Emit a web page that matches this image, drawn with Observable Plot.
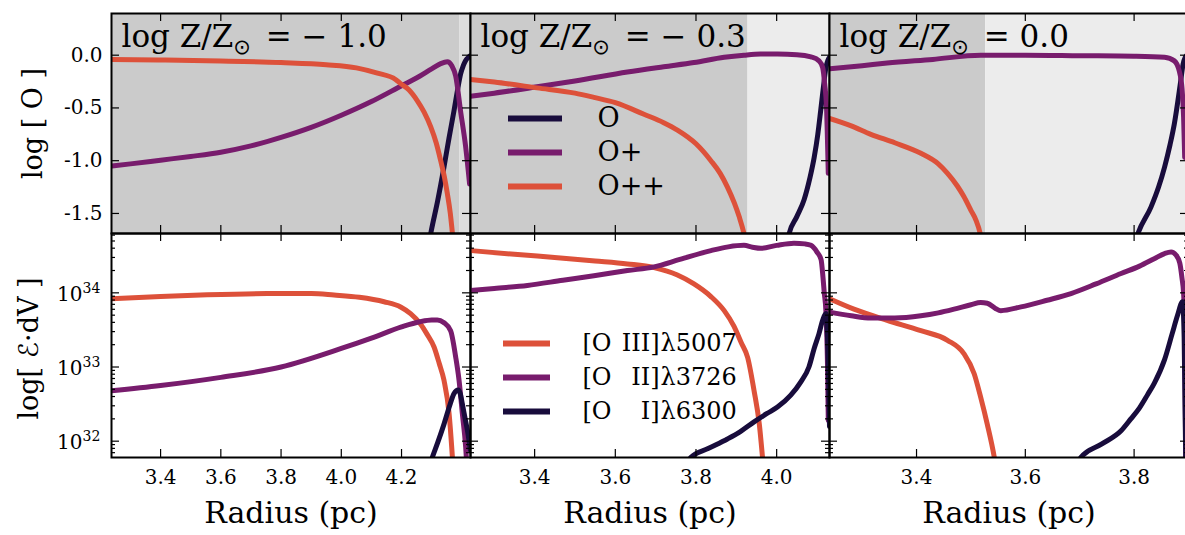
<!DOCTYPE html>
<html>
<head>
<meta charset="utf-8">
<script src="https://cdn.jsdelivr.net/npm/d3@7"></script>
<script src="https://cdn.jsdelivr.net/npm/@observablehq/plot@0.6"></script>
<style>
  html, body { margin: 0; padding: 0; background: #fff; overflow: hidden; }
  #fig { position: relative; width: 1185px; height: 535px; background: #fff; }
  #fig svg { position: absolute; overflow: visible; }
  #fig text { font-family: 'DejaVu Serif', 'DejaVu Sans', serif; }
</style>
</head>
<body>
<div id="fig"></div>
<script>
// ---------------------------------------------------------------------------
// Oxygen ionisation structure of three shell models (log Z/Z☉ = -1.0, -0.3, 0.0)
// top row: ion fractions log[O], bottom row: line emission ℰ·dV per radius
// ---------------------------------------------------------------------------

const metallicity = [-1.0, -0.3, 0.0];
const radiusInner = [3.237, 3.241, 3.240];   // pc, left edge of each column
const radiusOuter = [4.429, 4.131, 3.900];   // pc, right edge of each column
const ionFront    = [4.394, 3.929, 3.527];   // pc, end of the ionised zone
const radiusTicks = [[3.4, 3.6, 3.8, 4.0, 4.2], [3.4, 3.6, 3.8, 4.0], [3.4, 3.6, 3.8]];

const ionTicks = [0, -0.5, -1.0, -1.5];
const emisDecades = [32, 33, 34];
const ionNames = ["O", "O+", "O++"];
const linePrefix = ["[O", "[O", "[O"];
const lineIon = ["III]", "II]", "I]"];
const lineWave = ["λ5007", "λ3726", "λ6300"];

// log ion fraction, [radius (pc), log X]
const zm10_O = [[4.290,-1.80],[4.297,-1.69],[4.320,-1.38],[4.341,-1.06],[4.358,-0.78],[4.374,-0.53],[4.386,-0.33],[4.396,-0.18],[4.405,-0.10],[4.413,-0.05],[4.422,-0.02],[4.429,-0.005]];
const zm10_Op = [[3.237,-1.05],[3.300,-1.03],[3.400,-0.995],[3.500,-0.96],[3.600,-0.92],[3.700,-0.86],[3.800,-0.78],[3.900,-0.685],[4.000,-0.57],[4.100,-0.44],[4.200,-0.29],[4.260,-0.20],[4.300,-0.13],[4.330,-0.08],[4.352,-0.063],[4.367,-0.10],[4.380,-0.20],[4.396,-0.53],[4.413,-0.87],[4.426,-1.22]];
const zm10_Opp = [[3.237,-0.04],[3.400,-0.045],[3.600,-0.055],[3.800,-0.07],[3.950,-0.09],[4.050,-0.12],[4.120,-0.17],[4.180,-0.23],[4.197,-0.27],[4.225,-0.33],[4.252,-0.43],[4.275,-0.54],[4.297,-0.68],[4.315,-0.83],[4.330,-1.00],[4.342,-1.15],[4.352,-1.31],[4.362,-1.50],[4.369,-1.69],[4.373,-1.80]];

const zm03_O = [[4.025,-1.80],[4.031,-1.69],[4.050,-1.53],[4.068,-1.37],[4.082,-1.17],[4.093,-0.97],[4.102,-0.75],[4.109,-0.53],[4.116,-0.30],[4.122,-0.12],[4.127,-0.05],[4.131,-0.02]];
const zm03_Op = [[3.241,-0.39],[3.300,-0.36],[3.406,-0.30],[3.500,-0.245],[3.630,-0.16],[3.720,-0.11],[3.795,-0.07],[3.870,-0.02],[3.919,0.0],[3.960,0.01],[4.002,0.01],[4.050,0.005],[4.085,-0.016],[4.105,-0.054],[4.114,-0.117],[4.119,-0.27],[4.124,-0.53],[4.126,-0.81],[4.128,-1.12]];
const zm03_Opp = [[3.241,-0.23],[3.300,-0.255],[3.406,-0.31],[3.500,-0.36],[3.547,-0.40],[3.600,-0.45],[3.671,-0.56],[3.720,-0.64],[3.754,-0.71],[3.800,-0.84],[3.837,-1.00],[3.860,-1.12],[3.878,-1.25],[3.895,-1.40],[3.907,-1.53],[3.919,-1.69],[3.925,-1.80]];

const z00_O = [[3.800,-1.80],[3.807,-1.69],[3.831,-1.44],[3.845,-1.25],[3.856,-1.06],[3.866,-0.85],[3.874,-0.65],[3.885,-0.27],[3.890,-0.085],[3.894,-0.02],[3.897,0.0]];
const z00_Op = [[3.240,-0.13],[3.300,-0.10],[3.346,-0.075],[3.430,-0.04],[3.518,0.0],[3.600,0.0],[3.700,-0.005],[3.800,-0.01],[3.856,-0.02],[3.874,-0.054],[3.883,-0.15],[3.888,-0.31],[3.891,-0.59],[3.893,-0.97]];
const z00_Opp = [[3.240,-0.60],[3.280,-0.67],[3.316,-0.75],[3.360,-0.83],[3.408,-0.93],[3.440,-1.03],[3.457,-1.12],[3.475,-1.24],[3.487,-1.34],[3.500,-1.47],[3.509,-1.56],[3.517,-1.69],[3.521,-1.80]];

// log10 of line emission ℰ·dV, [radius (pc), log10 value]
const zm10_OIII = [[3.237,33.92],[3.400,33.95],[3.533,33.97],[3.754,33.99],[3.900,33.99],[3.976,33.97],[4.060,33.94],[4.142,33.88],[4.197,33.81],[4.230,33.72],[4.263,33.58],[4.285,33.44],[4.308,33.27],[4.325,33.05],[4.341,32.82],[4.358,32.37],[4.369,31.78],[4.372,31.60]];
const zm10_OII = [[3.237,32.68],[3.400,32.75],[3.600,32.86],[3.800,33.00],[4.000,33.25],[4.100,33.39],[4.200,33.54],[4.260,33.61],[4.300,33.635],[4.319,33.635],[4.340,33.60],[4.363,33.49],[4.380,33.13],[4.391,32.82],[4.402,32.37],[4.413,31.92],[4.418,31.60]];
const zm10_OI = [[4.295,31.70],[4.302,31.78],[4.320,31.98],[4.341,32.23],[4.360,32.48],[4.374,32.64],[4.388,32.69],[4.395,32.64],[4.402,32.50],[4.410,32.33],[4.419,32.14],[4.429,31.87]];

const zm03_OIII = [[3.241,34.57],[3.350,34.52],[3.464,34.47],[3.550,34.43],[3.630,34.39],[3.696,34.34],[3.754,34.24],[3.795,34.12],[3.837,33.95],[3.870,33.76],[3.894,33.55],[3.912,33.33],[3.928,33.13],[3.944,32.68],[3.957,32.23],[3.965,31.78],[3.968,31.60]];
const zm03_OII = [[3.241,34.03],[3.300,34.06],[3.382,34.10],[3.470,34.17],[3.547,34.23],[3.630,34.30],[3.696,34.35],[3.760,34.45],[3.837,34.57],[3.880,34.62],[3.919,34.64],[3.940,34.615],[3.961,34.60],[4.000,34.64],[4.043,34.67],[4.070,34.66],[4.085,34.64],[4.100,34.55],[4.110,34.45],[4.115,34.20],[4.118,34.00],[4.122,33.76],[4.126,33.04],[4.128,32.28]];
const zm03_OI = [[3.780,31.70],[3.787,31.78],[3.830,31.90],[3.878,32.03],[3.910,32.13],[3.944,32.26],[3.975,32.37],[4.002,32.46],[4.035,32.62],[4.060,32.80],[4.080,33.00],[4.093,33.25],[4.105,33.45],[4.114,33.63],[4.122,33.72],[4.126,33.40],[4.129,32.80],[4.131,32.20]];

const z00_OIII = [[3.240,33.92],[3.285,33.78],[3.346,33.63],[3.408,33.49],[3.457,33.36],[3.487,33.18],[3.506,32.91],[3.518,32.59],[3.530,32.23],[3.543,31.78],[3.547,31.60]];
const z00_OII = [[3.240,33.74],[3.280,33.69],[3.316,33.66],[3.360,33.66],[3.408,33.69],[3.440,33.73],[3.469,33.78],[3.500,33.84],[3.518,33.87],[3.530,33.86],[3.545,33.79],[3.555,33.76],[3.592,33.81],[3.640,33.90],[3.684,33.99],[3.730,34.12],[3.776,34.26],[3.810,34.36],[3.837,34.46],[3.856,34.53],[3.868,34.55],[3.877,34.51],[3.884,34.40],[3.888,34.20],[3.891,33.99],[3.893,33.50],[3.895,31.70]];
const z00_OI = [[3.695,31.70],[3.702,31.78],[3.740,31.96],[3.776,32.14],[3.794,32.30],[3.810,32.45],[3.825,32.63],[3.837,32.78],[3.856,33.10],[3.870,33.45],[3.880,33.70],[3.889,33.88],[3.892,33.40],[3.895,31.70]];

const ionSeries  = [[zm10_O, zm10_Op, zm10_Opp], [zm03_O, zm03_Op, zm03_Opp], [z00_O, z00_Op, z00_Opp]];
const lineSeries = [[zm10_OIII, zm10_OII, zm10_OI], [zm03_OIII, zm03_OII, zm03_OI], [z00_OIII, z00_OII, z00_OI]];

// ---------------------------------------------------------------------------
const cO = "#180c3c", cOp = "#781c6d", cOpp = "#dd513a";
const ionColors  = [cO, cOp, cOpp];
const lineColors = [cOpp, cOp, cO];
const shadeDark = "#cbcbcb";
const shadeLight = ["#dddddd", "#ececec", "#ececec"];
const FONT = "DejaVu Serif";

const fig = document.getElementById("fig");
const colLeft = [111, 470, 829], colW = 359;
const topY = 13, topH = 220, botY = 233, botH = 224;
const ionDomain = [-1.69, 0.395];
const emisDomain = [10 ** 31.78, 10 ** 34.80];

function place(svg, left, top) {
  svg.style.left = left + "px";
  svg.style.top = top + "px";
  fig.appendChild(svg);
  return svg;
}

function inwardTicks(xt, yt, w, h, yMinor = []) {
  const k = {stroke: "black", strokeWidth: 1.2, strokeOpacity: 1};
  return [
    Plot.tickX(xt, {x: d => d, insetTop: h - 8, ...k}),
    Plot.tickX(xt, {x: d => d, insetBottom: h - 8, ...k}),
    Plot.tickY(yt, {y: d => d, insetRight: w - 8, ...k}),
    Plot.tickY(yt, {y: d => d, insetLeft: w - 8, ...k}),
    Plot.tickY(yMinor, {y: d => d, insetRight: w - 4, ...k}),
    Plot.tickY(yMinor, {y: d => d, insetLeft: w - 4, ...k})
  ];
}

const fmtZ = z => z < 0 ? `= − ${Math.abs(z).toFixed(1)}` : `= ${z.toFixed(1)}`;

// minor log ticks that fall inside the emission axis
const minorLog = [];
for (let e = 31; e <= 34; e++) for (let m = 2; m <= 9; m++) {
  const v = m * 10 ** e;
  if (v > emisDomain[0] && v < emisDomain[1]) minorLog.push(v);
}

const lineStyle = {strokeWidth: 5, curve: "monotone-x", strokeLinejoin: "round", clip: true};
const txt = {fill: "black", fontFamily: FONT};

for (let c = 0; c < 3; c++) {
  const xDom = [radiusInner[c], radiusOuter[c]];

  // --- top row: ion fractions ---
  const top = Plot.plot({
    width: colW, height: topH, margin: 0,
    x: {domain: xDom, axis: null},
    y: {domain: ionDomain, axis: null},
    style: {overflow: "visible", background: "transparent", fontFamily: FONT},
    marks: [
      Plot.rect([[radiusInner[c], ionFront[c]]], {x1: d => d[0], x2: d => d[1], fill: shadeDark}),
      Plot.rect([[ionFront[c], radiusOuter[c]]], {x1: d => d[0], x2: d => d[1], fill: shadeLight[c]}),
      ...ionSeries[c].map((s, i) => Plot.line(s, {x: d => d[0], y: d => d[1], stroke: ionColors[i], ...lineStyle})),
      Plot.frame({stroke: "black", strokeWidth: 2}),
      ...inwardTicks(radiusTicks[c], ionTicks, colW, topH),
      Plot.text([`log Z/Z⊙ ${fmtZ(metallicity[c])}`], {text: d => d, frameAnchor: "top-left", dx: 10, dy: 33, lineAnchor: "bottom", textAnchor: "start", fontSize: 31, ...txt}),
      ...(c === 0 ? [
        Plot.text(ionTicks, {y: d => d, text: d => d.toFixed(1), frameAnchor: "left", dx: -9, textAnchor: "end", fontSize: 20, ...txt}),
        Plot.text(["log [ O ]"], {text: d => d, frameAnchor: "left", dx: -78, rotate: -90, textAnchor: "middle", lineAnchor: "middle", fontSize: 27, ...txt})
      ] : [])
    ]
  });
  place(top, colLeft[c], topY);

  // --- bottom row: line emission ---
  const bot = Plot.plot({
    width: colW, height: botH, margin: 0,
    x: {domain: xDom, axis: null},
    y: {type: "log", domain: emisDomain, axis: null},
    style: {overflow: "visible", background: "transparent", fontFamily: FONT},
    marks: [
      ...lineSeries[c].map((s, i) => Plot.line(s, {x: d => d[0], y: d => 10 ** d[1], stroke: lineColors[i], ...lineStyle})),
      Plot.frame({stroke: "black", strokeWidth: 2}),
      ...inwardTicks(radiusTicks[c], emisDecades.map(e => 10 ** e), colW, botH, minorLog),
      Plot.text(radiusTicks[c], {x: d => d, text: d => d.toFixed(1), frameAnchor: "bottom", dy: 20, lineAnchor: "middle", fontSize: 20, ...txt}),
      Plot.text(["Radius (pc)"], {text: d => d, frameAnchor: "bottom", dy: 56, lineAnchor: "middle", fontSize: 30, ...txt}),
      ...(c === 0 ? [
        Plot.text(emisDecades, {y: d => 10 ** d, text: () => "10", frameAnchor: "left", dx: -29, dy: 8, lineAnchor: "bottom", textAnchor: "end", fontSize: 20, ...txt}),
        Plot.text(emisDecades, {y: d => 10 ** d, text: d => String(d), frameAnchor: "left", dx: -29, dy: 0, lineAnchor: "bottom", textAnchor: "start", fontSize: 14, ...txt}),
        Plot.text(["log[ ℰ·dV ]"], {text: d => d, frameAnchor: "left", dx: -82, dy: 3, rotate: -90, textAnchor: "middle", lineAnchor: "middle", fontSize: 27, ...txt})
      ] : [])
    ]
  });
  place(bot, colLeft[c], botY);
}

// title subscript: the solar symbol sits below the baseline, smaller
d3.select(fig).selectAll("text").each(function () {
  const t = this.textContent;
  if (!t.includes("⊙")) return;
  const [a, b] = t.split("⊙");
  const sel = d3.select(this);
  sel.text(null);
  sel.append("tspan").text(a);
  sel.append("tspan").attr("font-size", 21).attr("dy", 7).attr("font-family", "DejaVu Sans").text("⊙");
  sel.append("tspan").attr("dy", -7).attr("dx", 5).text(b);
});

// --- legends (ion species in the top-middle panel, lines in the bottom-middle panel) ---
const ionLegend = Plot.plot({
  width: 200, height: 102, margin: 0,
  x: {domain: [0, 1], range: [8, 62], axis: null},
  y: {type: "point", domain: ionNames, range: [17, 85], padding: 0, axis: null},
  color: {type: "identity"},
  style: {overflow: "visible", background: "transparent", fontFamily: FONT},
  marks: [
    Plot.ruleY(ionNames, {y: d => d, x1: () => 0, x2: () => 1, stroke: (d, i) => ionColors[i], strokeWidth: 6}),
    Plot.text(ionNames, {y: d => d, text: d => d, frameAnchor: "left", dx: 97, textAnchor: "start", fontSize: 27, ...txt})
  ]
});
place(ionLegend, 500, 101);

const lineLegend = Plot.plot({
  width: 250, height: 104, margin: 0,
  x: {domain: [0, 1], range: [3, 50], axis: null},
  y: {type: "point", domain: lineIon, range: [17, 86], padding: 0, axis: null},
  color: {type: "identity"},
  style: {overflow: "visible", background: "transparent", fontFamily: FONT},
  marks: [
    Plot.ruleY(lineIon, {y: d => d, x1: () => 0, x2: () => 1, stroke: (d, i) => lineColors[i], strokeWidth: 6}),
    Plot.text(lineIon, {y: d => d, text: (d, i) => linePrefix[i], frameAnchor: "left", dx: 82, textAnchor: "start", fontSize: 24, ...txt}),
    Plot.text(lineIon, {y: d => d, text: d => d, frameAnchor: "left", dx: 159, textAnchor: "end", fontSize: 24, ...txt}),
    Plot.text(lineIon, {y: d => d, text: (d, i) => lineWave[i], frameAnchor: "left", dx: 160, textAnchor: "start", fontSize: 24, ...txt})
  ]
});
place(lineLegend, 500, 325);
</script>
</body>
</html>
